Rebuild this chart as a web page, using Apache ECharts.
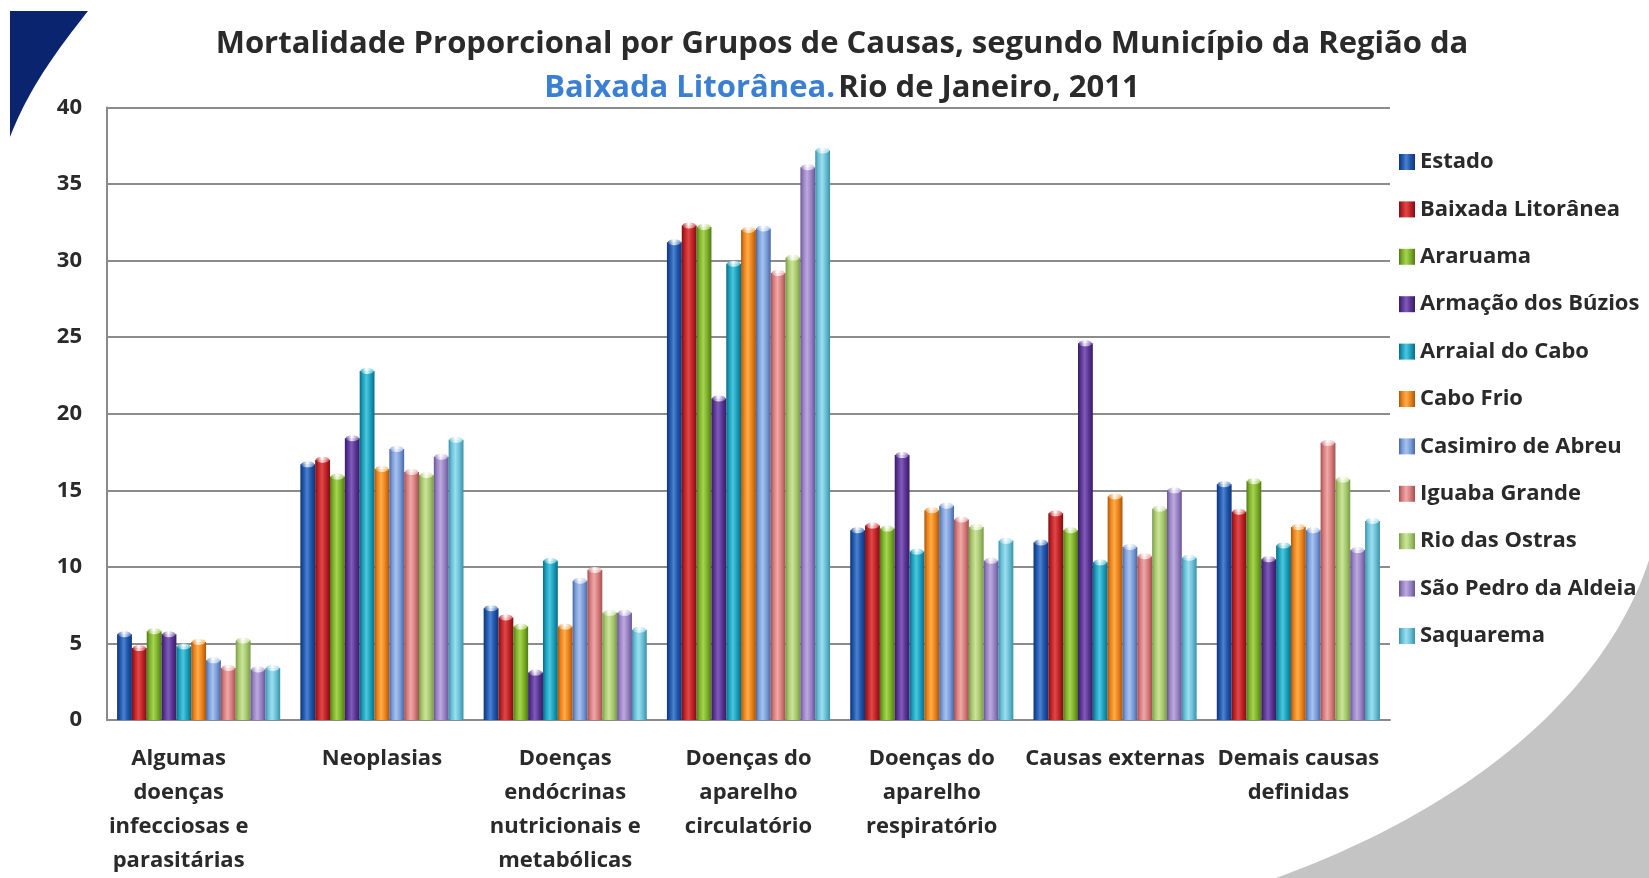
<!DOCTYPE html>
<html>
<head>
<meta charset="utf-8">
<script src="https://cdn.jsdelivr.net/npm/echarts@6/dist/echarts.min.js"></script>
<style>
  html, body { margin: 0; padding: 0; background: #ffffff; }
  #chart { width: 1649px; height: 878px; }
</style>
</head>
<body>
<div id="chart"></div>
<script>
// Grupos de causas (eixo X)
const categorias = [
  'Algumas\ndoenças\ninfecciosas e\nparasitárias',
  'Neoplasias',
  'Doenças\nendócrinas\nnutricionais e\nmetabólicas',
  'Doenças do\naparelho\ncirculatório',
  'Doenças do\naparelho\nrespiratório',
  'Causas externas',
  'Demais causas\ndefinidas'
];

// Mortalidade proporcional (%) por município, na ordem das categorias
const estado          = [5.6, 16.7, 7.3, 31.2, 12.4, 11.6, 15.4];
const baixada         = [4.7, 17.0, 6.7, 32.3, 12.7, 13.5, 13.6];
const araruama        = [5.8, 15.9, 6.1, 32.2, 12.5, 12.4, 15.6];
const armacaoBuzios   = [5.6, 18.4, 3.1, 21.0, 17.3, 24.6, 10.5];
const arraialCabo     = [4.8, 22.8, 10.4, 29.8, 11.0, 10.3, 11.4];
const caboFrio        = [5.1, 16.4, 6.1, 32.0, 13.7, 14.6, 12.6];
const casimiroAbreu   = [3.9, 17.7, 9.1, 32.1, 14.0, 11.3, 12.4];
const iguabaGrande    = [3.4, 16.2, 9.8, 29.2, 13.1, 10.7, 18.1];
const rioOstras       = [5.2, 16.0, 7.0, 30.2, 12.6, 13.8, 15.7];
const saoPedroAldeia  = [3.3, 17.2, 7.0, 36.1, 10.4, 15.0, 11.1];
const saquarema       = [3.4, 18.3, 5.9, 37.2, 11.7, 10.6, 13.0];

const nomesSeries = ['Estado', 'Baixada Litorânea', 'Araruama', 'Armação dos Búzios',
  'Arraial do Cabo', 'Cabo Frio', 'Casimiro de Abreu', 'Iguaba Grande',
  'Rio das Ostras', 'São Pedro da Aldeia', 'Saquarema'];
const valoresSeries = [estado, baixada, araruama, armacaoBuzios, arraialCabo, caboFrio,
  casimiroAbreu, iguabaGrande, rioOstras, saoPedroAldeia, saquarema];

// Tons de cada série: borda escura, brilho, base
const tons = [
  ['#12337a', '#4a82d0', '#1f55a8'],
  ['#7a1014', '#e04848', '#bf2226'],
  ['#527816', '#a6d450', '#7cb02a'],
  ['#361c62', '#7e5cba', '#5a3494'],
  ['#0c6a84', '#4cc6de', '#1aa0bc'],
  ['#aa560a', '#fcae48', '#ec821c'],
  ['#4a68a2', '#a6c2ee', '#7a9cd8'],
  ['#a25050', '#f0a8a8', '#d67c7c'],
  ['#7a9a48', '#cce49a', '#a6c86e'],
  ['#6a5494', '#bcaade', '#9882c4'],
  ['#3e90a6', '#9cdef0', '#68c0d6']
];

const eixoY = { min: 0, max: 40, interval: 5 };

function gradiente(t) {
  return new echarts.graphic.LinearGradient(0, 0, 1, 0, [
    { offset: 0, color: t[0] },
    { offset: 0.2, color: t[2] },
    { offset: 0.45, color: t[1] },
    { offset: 0.72, color: t[2] },
    { offset: 1, color: t[0] }
  ]);
}

// Tampa clara no topo de cada coluna cilíndrica
function tampa(t) {
  return new echarts.graphic.LinearGradient(0, 0, 1, 0, [
    { offset: 0, color: t[2] },
    { offset: 0.45, color: '#ffffff' },
    { offset: 1, color: t[1] }
  ]);
}

// Pontos de uma curva de Bézier cúbica, para os enfeites do fundo
function bezier(p0, p1, p2, p3, n) {
  const pts = [];
  for (let k = 0; k <= n; k++) {
    const t = k / n, u = 1 - t;
    pts.push([
      u * u * u * p0[0] + 3 * u * u * t * p1[0] + 3 * u * t * t * p2[0] + t * t * t * p3[0],
      u * u * u * p0[1] + 3 * u * u * t * p1[1] + 3 * u * t * t * p2[1] + t * t * t * p3[1]
    ]);
  }
  return pts;
}

const cantoAzul = [[10, 11]].concat(bezier([88, 11], [62, 44], [30, 85], [10, 137], 30));
const faixaCinza = bezier([1649, 560], [1610, 680], [1490, 800], [1276, 878], 40)
  .concat([[1649, 878]]);

const fonte = "'Open Sans', 'Noto Sans', sans-serif";
const corTexto = '#2a2a2a';

const colunas = nomesSeries.map((nome, i) => ({
  name: nome,
  type: 'bar',
  data: valoresSeries[i],
  barGap: '0%',
  barCategoryGap: '11%',
  itemStyle: { color: gradiente(tons[i]) },
  emphasis: { disabled: true }
}));

const tampas = nomesSeries.map((nome, i) => ({
  id: 'tampa-' + i,
  type: 'pictorialBar',
  data: valoresSeries[i],
  barGap: '0%',
  barCategoryGap: '11%',
  symbol: 'circle',
  symbolSize: ['90%', 6],
  symbolPosition: 'end',
  symbolOffset: [0, '-50%'],
  itemStyle: { color: tampa(tons[i]), opacity: 0.85 },
  silent: true,
  z: 3
}));

const chart = echarts.init(document.getElementById('chart'), null, { renderer: 'canvas' });

chart.setOption({
  backgroundColor: '#ffffff',
  animation: false,
  textStyle: { fontFamily: fonte },
  graphic: [
    {
      type: 'polygon', z: -10,
      shape: { points: cantoAzul },
      style: { fill: '#0b2470' }
    },
    {
      type: 'polygon', z: -10,
      shape: { points: faixaCinza },
      style: { fill: '#c4c4c4' }
    },
    {
      type: 'text', x: 842, y: 44,
      style: {
        text: 'Mortalidade Proporcional por Grupos de Causas, segundo Município da Região da',
        font: "bold 31px 'Open Sans', sans-serif",
        fill: corTexto, align: 'center', verticalAlign: 'middle'
      }
    },
    {
      type: 'text', x: 842, y: 88,
      style: {
        text: '{b|Baixada Litorânea.} {d|Rio de Janeiro, 2011}',
        align: 'center', verticalAlign: 'middle',
        rich: {
          b: { font: "bold 31px 'Open Sans', sans-serif", fill: '#3b7fd4' },
          d: { font: "bold 31px 'Open Sans', sans-serif", fill: corTexto }
        }
      }
    }
  ],
  legend: {
    orient: 'vertical',
    left: 1394,
    top: 146,
    itemWidth: 16,
    itemHeight: 16,
    itemGap: 25.4,
    icon: 'rect',
    data: nomesSeries,
    textStyle: {
      fontFamily: fonte, fontSize: 22, fontWeight: 'bold', color: corTexto,
      lineHeight: 22
    }
  },
  grid: { left: 107, right: 259, top: 107.5, bottom: 157.5, containLabel: false },
  xAxis: {
    type: 'category',
    data: categorias,
    axisLine: { show: true, lineStyle: { color: '#8a8a8a', width: 2 } },
    axisTick: { show: false },
    axisLabel: {
      interval: 0,
      margin: 22,
      fontFamily: fonte,
      fontSize: 22,
      fontWeight: 'bold',
      lineHeight: 34,
      color: corTexto,
      formatter: (v, i) => i === 0 ? '{p|' + v.split('\n').join('}\n{p|') + '}' : v,
      rich: {
        p: { fontFamily: fonte, fontSize: 22, fontWeight: 'bold', lineHeight: 34, color: corTexto, padding: [0, 40, 0, 0] }
      }
    }
  },
  yAxis: {
    type: 'value',
    min: eixoY.min,
    max: eixoY.max,
    interval: eixoY.interval,
    axisLine: { show: true, lineStyle: { color: '#8a8a8a', width: 2 } },
    axisTick: { show: false },
    axisLabel: { margin: 25, fontFamily: fonte, fontSize: 22, fontWeight: 'bold', color: corTexto },
    splitLine: { show: true, lineStyle: { color: '#8c8c8c', width: 2 } }
  },
  series: colunas.concat(tampas)
});
</script>
</body>
</html>
